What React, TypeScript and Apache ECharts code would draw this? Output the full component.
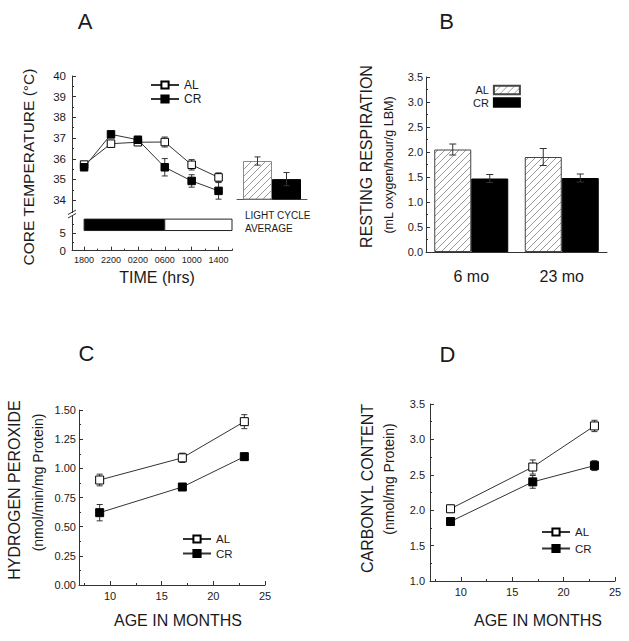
import React, { useEffect, useRef } from 'react';
import * as echarts from 'echarts';

const FONT = '"Liberation Sans", Arial, Helvetica, sans-serif';
const INK = '#1a1a1a';
const AXIS = '#333333';

// ---- Panel A: core temperature ----
const timeHours = [18, 22, 26, 30, 34, 38];
const timeTickLabels = ['1800', '2200', '0200', '0600', '1000', '1400'];
const timeMinorTicks = [20, 24, 28, 32, 36, 40];
const tempTicks = [34, 35, 36, 37, 38, 39, 40];
const tempMinorTicks = [34.5, 35.5, 36.5, 37.5, 38.5, 39.5];
const tempAL = [35.72, 36.73, 36.8, 36.81, 35.71, 35.1];
const tempALErr = [0.1, 0.1, 0.06, 0.24, 0.25, 0.22];
const tempCR = [35.59, 37.18, 36.92, 35.59, 34.93, 34.45];
const tempCRErr = [0.1, 0.08, 0.06, 0.42, 0.3, 0.4];
const cycleTicks = [0, 5];
const cycleMinorTicks = [2.5, 7.5];
const darkPeriod = [18, 30];
const lightPeriod = [30, 40];
const cycleBarBounds = [5.8, 9.1];
const avgCategory = ['avg'];
const avgTemp = [35.87, 34.99];
const avgTempErr = [0.2, 0.32];
const avgCaption = ['LIGHT CYCLE', 'AVERAGE'];

// ---- Panel B: resting respiration ----
const respCategories = ['6 mo', '23 mo'];
const respAL = [2.05, 1.9];
const respALErr = [0.11, 0.17];
const respCR = [1.47, 1.48];
const respCRErr = [0.08, 0.08];

// ---- Panels C & D ----
const ageMonths = [9, 17, 23];
const ageTicks = [10, 15, 20, 25];
const ageMinorTicks = [7.5, 12.5, 17.5, 22.5];
const h2o2AL = [0.9, 1.09, 1.4];
const h2o2ALErr = [0.05, 0.04, 0.06];
const h2o2CR = [0.62, 0.84, 1.1];
const h2o2CRErr = [0.07, 0.02, 0.03];
const carbonylAL = [2.02, 2.61, 3.19];
const carbonylALErr = [0.05, 0.1, 0.08];
const carbonylCR = [1.84, 2.4, 2.63];
const carbonylCRErr = [0.03, 0.09, 0.07];

function makeHatch(): any {
  const c = document.createElement('canvas');
  c.width = 7;
  c.height = 7;
  const ctx = c.getContext('2d')!;
  ctx.fillStyle = '#ffffff';
  ctx.fillRect(0, 0, 7, 7);
  ctx.strokeStyle = '#9a9a9a';
  ctx.lineWidth = 1;
  for (const k of [-7, 0, 7]) {
    ctx.beginPath();
    ctx.moveTo(k, 7);
    ctx.lineTo(k + 7, 0);
    ctx.stroke();
  }
  return { image: c, repeat: 'repeat' };
}

const lbl = (size: number, extra: any = {}) => ({ color: INK, fontFamily: FONT, fontSize: size, ...extra });
const axLine = { show: true, lineStyle: { color: AXIS, width: 1 } };
const noSplit = { show: false };

function majorValueAxis(gridIndex: number, min: number, max: number, position: string, ticks: number[], size: number, margin: number, formatter?: any) {
  return {
    gridIndex, type: 'value', min, max, position,
    axisLine: axLine, splitLine: noSplit,
    axisTick: { show: true, inside: true, length: 4, customValues: ticks, lineStyle: { color: AXIS } },
    axisLabel: lbl(size, { customValues: ticks, margin, formatter: formatter || ((v: number) => String(v)) }),
  };
}
function minorValueAxis(gridIndex: number, min: number, max: number, position: string, ticks: number[]) {
  return {
    gridIndex, type: 'value', min, max, position,
    axisLine: { show: false }, splitLine: noSplit,
    axisTick: { show: true, inside: true, length: 2, customValues: ticks, lineStyle: { color: AXIS } },
    axisLabel: { show: false },
  };
}

function errorBars(xAxisIndex: number, yAxisIndex: number, xs: number[], ys: number[], errs: number[], offset = 0, cap = 3, z = 1) {
  return {
    type: 'custom', xAxisIndex, yAxisIndex, z, silent: true,
    data: xs.map((x, i) => [x, ys[i], errs[i]]),
    encode: { x: 0, y: 1 },
    renderItem: (_p: any, api: any) => {
      const x = api.value(0), y = api.value(1), e = api.value(2);
      const top = api.coord([x, y + e]);
      const bot = api.coord([x, y - e]);
      const cx = top[0] + offset;
      const style = { stroke: AXIS, lineWidth: 1, fill: null };
      return {
        type: 'group',
        children: [
          { type: 'line', shape: { x1: cx, y1: top[1], x2: cx, y2: bot[1] }, style },
          { type: 'line', shape: { x1: cx - cap, y1: top[1], x2: cx + cap, y2: top[1] }, style },
          { type: 'line', shape: { x1: cx - cap, y1: bot[1], x2: cx + cap, y2: bot[1] }, style },
        ],
      };
    },
  };
}

function lineSeries(name: string, xAxisIndex: number, yAxisIndex: number, xs: number[], ys: number[], filled: boolean, size: number) {
  return {
    type: 'line', name, xAxisIndex, yAxisIndex, z: 3,
    data: xs.map((x, i) => [x, ys[i]]),
    symbol: 'rect', symbolSize: size, showSymbol: true,
    lineStyle: { color: AXIS, width: 1 },
    itemStyle: { color: filled ? '#000' : '#fff', borderColor: '#000', borderWidth: 1 },
    emphasis: { disabled: true },
  };
}

function txt(x: number, y: number, text: string, size: number, rotate = false, align = 'center') {
  return {
    type: 'text', x, y, silent: true, rotation: rotate ? Math.PI / 2 : 0,
    style: { text, fontSize: size, fontFamily: FONT, fill: INK, align, verticalAlign: 'middle' },
  };
}

function buildOption(): any {
  const hatch = makeHatch();
  const grid = (left: number, top: number, width: number, height: number) => ({ left, top, width, height, outerBoundsMode: 'none', containLabel: false });
  return {
    animation: false,
    backgroundColor: '#ffffff',
    textStyle: { fontFamily: FONT },
    grid: [
      grid(72, 76, 160, 136.6),
      grid(72, 216, 160, 34.6),
      grid(237, 76, 70, 123.5),
      grid(426, 77, 181, 175),
      grid(79, 410, 186, 175),
      grid(430, 404, 185, 177),
    ],
    xAxis: [
      { gridIndex: 0, type: 'value', min: 16.2, max: 40, show: false, splitLine: noSplit },
      majorValueAxis(1, 16.2, 40, 'bottom', timeHours, 9, 5, (v: number) => timeTickLabels[timeHours.indexOf(v)] ?? ''),
      minorValueAxis(1, 16.2, 40, 'bottom', timeMinorTicks),
      { gridIndex: 2, type: 'category', data: avgCategory, axisLine: { show: true, lineStyle: { color: '#555' } }, axisTick: { show: false }, axisLabel: { show: false } },
      { gridIndex: 3, type: 'category', data: respCategories, axisLine: axLine, axisTick: { show: false }, axisLabel: lbl(16, { margin: 16 }) },
      majorValueAxis(4, 7, 25, 'bottom', ageTicks, 11, 5),
      minorValueAxis(4, 7, 25, 'bottom', ageMinorTicks),
      majorValueAxis(5, 7, 25, 'bottom', ageTicks, 11, 5),
      minorValueAxis(5, 7, 25, 'bottom', ageMinorTicks),
    ],
    yAxis: [
      majorValueAxis(0, 33.4, 40, 'left', tempTicks, 11.5, 6),
      minorValueAxis(0, 33.4, 40, 'left', tempMinorTicks),
      majorValueAxis(1, 0, 10, 'left', cycleTicks, 11.5, 6),
      minorValueAxis(1, 0, 10, 'left', cycleMinorTicks),
      { gridIndex: 2, type: 'value', min: 34, max: 40, startValue: 34, show: false, splitLine: noSplit },
      {
        gridIndex: 3, type: 'value', min: 0, max: 3.5, interval: 0.5, position: 'left',
        axisLine: axLine, splitLine: noSplit,
        axisTick: { show: true, inside: true, length: 4, lineStyle: { color: AXIS } },
        minorTick: { show: true, splitNumber: 2, length: 2, lineStyle: { color: AXIS } },
        axisLabel: lbl(11, { margin: 3, formatter: (v: number) => v.toFixed(1) }),
      },
      {
        gridIndex: 4, type: 'value', min: 0, max: 1.5, interval: 0.25, position: 'left',
        axisLine: axLine, splitLine: noSplit,
        axisTick: { show: true, inside: true, length: 4, lineStyle: { color: AXIS } },
        minorTick: { show: true, splitNumber: 2, length: 2, lineStyle: { color: AXIS } },
        axisLabel: lbl(11, { margin: 3, formatter: (v: number) => v.toFixed(2) }),
      },
      {
        gridIndex: 5, type: 'value', min: 1, max: 3.5, interval: 0.5, position: 'left',
        axisLine: axLine, splitLine: noSplit,
        axisTick: { show: true, inside: true, length: 4, lineStyle: { color: AXIS } },
        minorTick: { show: true, splitNumber: 2, length: 2, lineStyle: { color: AXIS } },
        axisLabel: lbl(11, { margin: 5, formatter: (v: number) => v.toFixed(1) }),
      },
    ],
    legend: [
      {
        data: ['AL', 'CR'], orient: 'vertical', left: 150, top: 79, padding: 0,
        itemWidth: 28, itemHeight: 9, itemGap: 2, selectedMode: false,
        textStyle: lbl(12),
      },
      {
        data: ['AL (B)', 'CR (B)'], orient: 'vertical', left: 473, top: 84.5, padding: 0, align: 'right',
        icon: 'rect', itemWidth: 26, itemHeight: 8.5, itemGap: 1.5, selectedMode: false,
        formatter: (n: string) => n.replace(' (B)', ''),
        textStyle: lbl(11),
      },
      {
        data: ['AL', 'CR'], orient: 'vertical', left: 182, top: 533, padding: 0,
        itemWidth: 28, itemHeight: 9, itemGap: 2.5, selectedMode: false,
        textStyle: lbl(11.5),
      },
      {
        data: ['AL', 'CR'], orient: 'vertical', left: 541, top: 526, padding: 0,
        itemWidth: 28, itemHeight: 9, itemGap: 4.5, selectedMode: false,
        textStyle: lbl(11.5),
      },
    ],
    series: [
      // Panel A upper
      errorBars(0, 0, timeHours, tempAL, tempALErr),
      errorBars(0, 0, timeHours, tempCR, tempCRErr),
      lineSeries('AL', 0, 0, timeHours, tempAL, false, 7.5),
      lineSeries('CR', 0, 0, timeHours, tempCR, true, 7.5),
      // Panel A lower: light/dark cycle band
      {
        type: 'custom', xAxisIndex: 1, yAxisIndex: 2, silent: true,
        data: [darkPeriod, lightPeriod].map((p) => [p[0], p[1], cycleBarBounds[0], cycleBarBounds[1]]),
        encode: { x: [0, 1], y: [2, 3] },
        renderItem: (params: any, api: any) => {
          const p0 = api.coord([api.value(0), api.value(3)]);
          const p1 = api.coord([api.value(1), api.value(2)]);
          return {
            type: 'rect',
            shape: { x: p0[0], y: p0[1], width: p1[0] - p0[0], height: p1[1] - p0[1] },
            style: { fill: params.dataIndex === 0 ? '#000' : '#fff', stroke: '#222', lineWidth: 1 },
          };
        },
      },
      // Panel A light cycle average
      {
        type: 'bar', name: 'AL avg', xAxisIndex: 3, yAxisIndex: 4, data: [avgTemp[0]],
        barWidth: 29, barGap: '0%', clip: true,
        itemStyle: { color: hatch, borderColor: '#8a8a8a', borderWidth: 1 },
        emphasis: { disabled: true },
      },
      {
        type: 'bar', name: 'CR avg', xAxisIndex: 3, yAxisIndex: 4, data: [avgTemp[1]],
        barWidth: 29, barGap: '0%', clip: true,
        itemStyle: { color: '#000', borderColor: '#000', borderWidth: 1 },
        emphasis: { disabled: true },
      },
      errorBars(3, 4, [0], [avgTemp[0]], [avgTempErr[0]], -14.5, 3, 5),
      errorBars(3, 4, [0], [avgTemp[1]], [avgTempErr[1]], 14.5, 3, 5),
      // Panel B
      {
        type: 'bar', name: 'AL (B)', xAxisIndex: 4, yAxisIndex: 5, data: respAL,
        barWidth: 37, barGap: '0%',
        itemStyle: { color: hatch, borderColor: '#444', borderWidth: 1 },
        emphasis: { disabled: true },
      },
      {
        type: 'bar', name: 'CR (B)', xAxisIndex: 4, yAxisIndex: 5, data: respCR,
        barWidth: 37, barGap: '0%',
        itemStyle: { color: '#000', borderColor: '#000', borderWidth: 1 },
        emphasis: { disabled: true },
      },
      errorBars(4, 5, [0, 1], respAL, respALErr, -18.5, 3.5, 5),
      errorBars(4, 5, [0, 1], respCR, respCRErr, 18.5, 3.5, 5),
      // Panel C
      errorBars(5, 6, ageMonths, h2o2AL, h2o2ALErr),
      errorBars(5, 6, ageMonths, h2o2CR, h2o2CRErr),
      lineSeries('AL', 5, 6, ageMonths, h2o2AL, false, 8),
      lineSeries('CR', 5, 6, ageMonths, h2o2CR, true, 8),
      // Panel D
      errorBars(7, 7, ageMonths, carbonylAL, carbonylALErr),
      errorBars(7, 7, ageMonths, carbonylCR, carbonylCRErr),
      lineSeries('AL', 7, 7, ageMonths, carbonylAL, false, 8),
      lineSeries('CR', 7, 7, ageMonths, carbonylCR, true, 8),
    ],
    graphic: [
      txt(85, 21, 'A', 22),
      txt(446.5, 21, 'B', 22),
      txt(86.5, 353.5, 'C', 22),
      txt(447.5, 354.5, 'D', 22),
      txt(28, 167, 'CORE TEMPERATURE (°C)', 15.5, true),
      txt(157, 277, 'TIME (hrs)', 16),
      txt(245, 215.5, avgCaption[0], 10, false, 'left'),
      txt(245, 228.5, avgCaption[1], 10, false, 'left'),
      txt(366.5, 156.5, 'RESTING RESPIRATION', 16, true),
      txt(388.5, 165, '(mL oxygen/hour/g LBM)', 12.5, true),
      txt(14.5, 490, 'HYDROGEN PEROXIDE', 16, true),
      txt(38, 482.5, '(nmol/min/mg Protein)', 14, true),
      txt(367, 488.5, 'CARBONYL CONTENT', 16, true),
      txt(389, 479, '(nmol/mg Protein)', 14, true),
      txt(178, 620, 'AGE IN MONTHS', 16),
      txt(538, 620, 'AGE IN MONTHS', 16),
      { type: 'line', silent: true, shape: { x1: 68, y1: 214.5, x2: 76, y2: 210 }, style: { stroke: AXIS, lineWidth: 1 } },
      { type: 'line', silent: true, shape: { x1: 68, y1: 218, x2: 76, y2: 213.5 }, style: { stroke: AXIS, lineWidth: 1 } },
    ],
  };
}

export default function App() {
  const ref = useRef<HTMLDivElement>(null);
  useEffect(() => {
    const chart = echarts.init(ref.current!, null, { renderer: 'svg' });
    chart.setOption(buildOption());
    return () => chart.dispose();
  }, []);
  return (
    <div
      ref={ref}
      style={{ position: 'absolute', left: 0, top: 0, width: 629, height: 641, background: '#fff' }}
    />
  );
}
